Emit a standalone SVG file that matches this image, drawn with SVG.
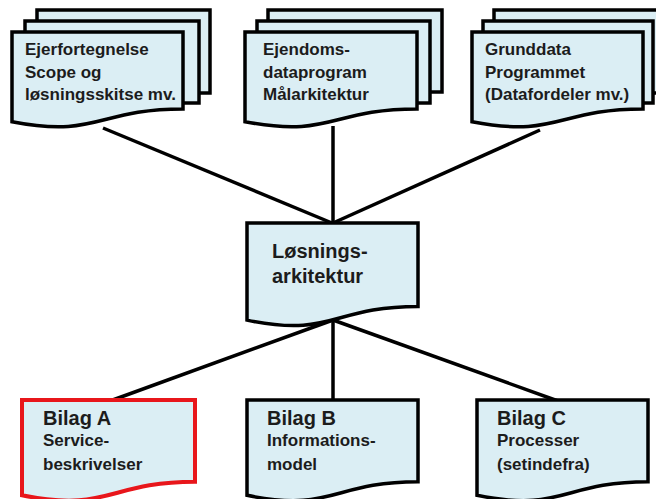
<svg xmlns="http://www.w3.org/2000/svg" width="656" height="499" viewBox="0 0 656 499">
<style>
.pg{fill:#dbeef4;stroke:#000;stroke-width:3.5;stroke-linejoin:miter}
.red{stroke:#e8161b;stroke-width:4}
.ln{stroke:#000;stroke-width:3.5;fill:none}
text{font-family:"Liberation Sans",Arial,sans-serif;font-weight:bold;fill:#1c1c1c}
.t17{font-size:17px}
.t20{font-size:20px}
</style>
<rect width="656" height="499" fill="#fff"/>
<g id="connectors">
<line class="ln" x1="103" y1="128" x2="332" y2="223"/>
<line class="ln" x1="333" y1="126" x2="333" y2="223"/>
<line class="ln" x1="540" y1="130" x2="333" y2="223"/>
<line class="ln" x1="333" y1="320" x2="110" y2="401"/>
<line class="ln" x1="333" y1="320" x2="333" y2="401"/>
<line class="ln" x1="333" y1="320" x2="558" y2="401"/>
</g>
<g id="node-ejerfortegnelse">
<rect class="pg" x="37" y="10" width="173" height="83"/>
<rect class="pg" x="25" y="21" width="174" height="82"/>
<path class="pg" d="M12,32 H183 V109 C97.5,109 97.5,138.3 12,121.7 Z"/>
<text class="t17" x="25" y="55">Ejerfortegnelse</text>
<text class="t17" x="25" y="77.5">Scope og</text>
<text class="t17" x="25" y="100">løsningsskitse mv.</text>
</g>
<g id="node-ejendomsdataprogram">
<rect class="pg" x="268" y="10" width="174" height="82"/>
<rect class="pg" x="257" y="21" width="173" height="82"/>
<path class="pg" d="M245,32 H417 V109 C331,109 331,138.3 245,121.7 Z"/>
<text class="t17" x="263" y="55">Ejendoms-</text>
<text class="t17" x="263" y="77.5">dataprogram</text>
<text class="t17" x="263" y="100">Målarkitektur</text>
</g>
<g id="node-grunddata">
<rect class="pg" x="494" y="10" width="174" height="83"/>
<rect class="pg" x="483" y="21" width="170" height="82"/>
<path class="pg" d="M472,32 H643 V109 C557.5,109 557.5,138.3 472,121.7 Z"/>
<text class="t17" x="485" y="55">Grunddata</text>
<text class="t17" x="485" y="77.5">Programmet</text>
<text class="t17" x="485" y="100">(Datafordeler mv.)</text>
</g>
<g id="node-loesningsarkitektur">
<path class="pg" d="M247,223 H418 V306.4 C332.5,306.4 332.5,338.1 247,320.1 Z"/>
<text class="t20" x="272" y="258">Løsnings-</text>
<text class="t20" x="272" y="283">arkitektur</text>
</g>
<g id="node-bilag-a">
<path class="pg red" d="M22,400 H195 V481.8 C108.5,481.8 108.5,512.9 22,495.3 Z"/>
<text class="t20" x="43" y="425">Bilag A</text>
<text class="t17" x="43" y="446">Service-</text>
<text class="t17" x="43" y="470">beskrivelser</text>
</g>
<g id="node-bilag-b">
<path class="pg" d="M247,400 H418 V481.8 C332.5,481.8 332.5,512.9 247,495.3 Z"/>
<text class="t20" x="267" y="425">Bilag B</text>
<text class="t17" x="267" y="446">Informations-</text>
<text class="t17" x="267" y="470">model</text>
</g>
<g id="node-bilag-c">
<path class="pg" d="M477,400 H648 V481.8 C562.5,481.8 562.5,512.9 477,495.3 Z"/>
<text class="t20" x="497" y="425">Bilag C</text>
<text class="t17" x="497" y="446">Processer</text>
<text class="t17" x="497" y="470">(setindefra)</text>
</g>
</svg>
